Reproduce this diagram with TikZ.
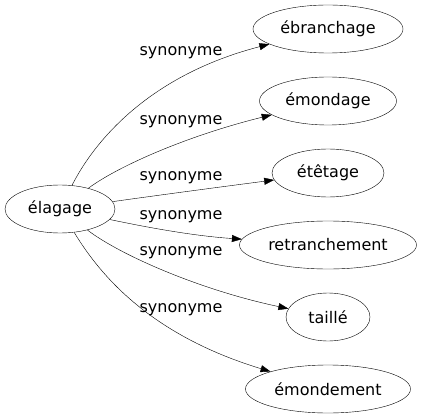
\documentclass[tikz,border=0pt]{standalone}
\usepackage{fontspec}
\setmainfont{DejaVu Sans}
\usetikzlibrary{shapes.geometric,arrows.meta}

\begin{document}
\begin{tikzpicture}[x=1pt,y=-1pt,>={Triangle[length=10pt,width=7pt]},
  mot/.style={draw,ellipse,inner sep=0pt,minimum height=48pt,font=\fontsize{16}{19}\selectfont},
  lab/.style={font=\fontsize{16}{19}\selectfont,inner sep=0pt}]
  \useasboundingbox (0,0) rectangle (422,419);
  \node[mot,minimum width=110pt] (el) at (60,209) {élagage};
  \foreach \n/\y/\w/\t in {a/29/150/ébranchage,b/101/137/émondage,c/173/112/étêtage,
                          d/245/177/retranchement,e/317/84/taillé,f/389/165/émondement}
  {
    \node[mot,minimum width=\w pt] (\n) at (328,\y) {\t};
  }
  \foreach \n/\ax/\ay/\bx/\by/\y in {a/95/140/150/75/53,b/120/165/190/135/122,c/160/195/220/187/178,
                          d/150/228/195/236/217,e/120/255/200/290/253,f/100/275/150/335/310}
  {
    \draw[->] (el) .. controls (\ax,\ay) and (\bx,\by) .. (\n);
    \node[lab] (l\n) at (181,\y) {synonyme};
  }
\end{tikzpicture}
\end{document}
